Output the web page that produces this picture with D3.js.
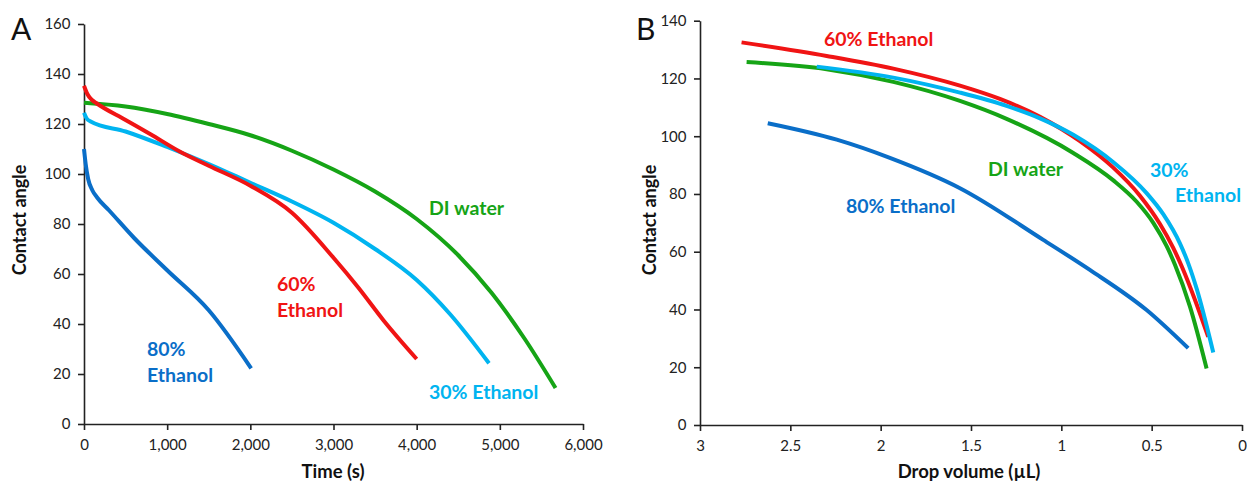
<!DOCTYPE html>
<html>
<head>
<meta charset="utf-8">
<script src="https://cdn.jsdelivr.net/npm/d3@7"></script>
<style>
  html, body { margin: 0; padding: 0; background: #fff; }
  svg { display: block; }
  text { font-family: Lato, "Open Sans", sans-serif; }
</style>
</head>
<body>
<svg id="chart" width="1247" height="485"></svg>
<script>
// ---------- Panel A data: time (s) vs contact angle ----------
const aWaterT = [0, 500, 1000, 1500, 2000, 2500, 3000, 3500, 4000, 4500, 4900, 5300, 5670];
const aWaterY = [128.5, 127, 124, 120, 115.5, 109.3, 101.8, 93, 82, 67.5, 52.5, 34, 14.4];
const a60T    = [0, 40, 100, 150, 500, 800, 1150, 1500, 2000, 2500, 3000, 3300, 3600, 4000];
const a60Y    = [135.3, 132, 129.5, 128.3, 121.6, 115.9, 109, 103.3, 95.3, 84.5, 66.5, 54.5, 41.5, 26];
const a30T    = [0, 30, 80, 500, 1000, 1500, 2000, 2500, 3000, 3500, 4000, 4400, 4870];
const a30Y    = [124.5, 122.3, 121, 117, 110.8, 104, 96.5, 89, 80.5, 70, 57.6, 44, 24.3];
const a80T    = [0, 20, 50, 100, 160, 300, 600, 1000, 1500, 2010];
const a80Y    = [110, 104, 98, 93.5, 90.5, 85.5, 74.5, 61.5, 45.5, 22.3];
const aXTicks = [0, 1000, 2000, 3000, 4000, 5000, 6000];
const aYTicks = [0, 20, 40, 60, 80, 100, 120, 140, 160];

// ---------- Panel B data: drop volume (µL) vs contact angle ----------
const bWaterV = [2.742, 2.299, 1.93, 1.561, 1.303, 0.934, 0.712, 0.583, 0.491, 0.417, 0.371, 0.288, 0.196];
const bWaterY = [125.7, 123.2, 118.8, 112.2, 106, 94.2, 84.7, 77.3, 70, 61.9, 55.5, 41, 19.6];
const b60V    = [2.77, 2.299, 1.93, 1.561, 1.34, 1.118, 0.897, 0.714, 0.565, 0.454, 0.382, 0.332, 0.26, 0.187];
const b60Y    = [132.5, 127.8, 123.4, 117.5, 112.9, 106.7, 98.3, 89.2, 79.4, 69.6, 61.5, 54.7, 43.3, 30.5];
const b30V    = [2.354, 1.93, 1.561, 1.303, 1.118, 0.934, 0.712, 0.528, 0.436, 0.343, 0.297, 0.251, 0.159];
const b30Y    = [124.1, 120.3, 115.1, 110.5, 106.2, 100.5, 91, 80.3, 73, 62.8, 55.9, 47.2, 25.1];
const b80V    = [2.625, 2.243, 1.949, 1.561, 1.1, 0.842, 0.528, 0.298];
const b80Y    = [104.5, 98.8, 92.5, 82, 64.1, 53.7, 39.8, 26.6];
const bXTicks = [3, 2.5, 2, 1.5, 1, 0.5, 0];
const bYTicks = [0, 20, 40, 60, 80, 100, 120, 140];

const colors = { water: "#16a416", e60: "#f01414", e30: "#00b4f0", e80: "#0a6ec8" };

const svg = d3.select("#chart");

function zip(xs, ys) { return xs.map((x, i) => ({ x, y: ys[i] })); }

function panel(opts) {
  const g = svg.append("g");
  const x = d3.scaleLinear().domain(opts.xDomain).range(opts.xRange);
  const y = d3.scaleLinear().domain(opts.yDomain).range(opts.yRange);

  const xAxis = d3.axisBottom(x).tickValues(opts.xTicks).tickSize(6).tickFormat(opts.xFormat).tickSizeOuter(0);
  const yAxis = d3.axisLeft(y).tickValues(opts.yTicks).tickSize(6).tickFormat(d3.format("d")).tickSizeOuter(0);
  const gx = g.append("g").attr("transform", `translate(0,${opts.yRange[0]})`).call(xAxis);
  const gy = g.append("g").attr("transform", `translate(${opts.xRange[0]},0)`).call(yAxis);
  [gx, gy].forEach(a => {
    a.select(".domain").attr("stroke", "#222").attr("stroke-width", 1.6);
    a.selectAll(".tick line").attr("stroke", "#222").attr("stroke-width", 1.6);
    a.selectAll(".tick text").attr("fill", "#222").style("font-size", "15px");
  });
  gx.selectAll(".tick text").attr("dy", "1.15em");
  gy.selectAll(".tick text").attr("dx", "-0.3em");

  const line = d3.line().x(d => x(d.x)).y(d => y(d.y)).curve(opts.curve);
  opts.series.forEach(s => {
    let pts = zip(s.xs, s.ys);
    pts.sort((a, b) => x(a.x) - x(b.x));
    g.append("path").datum(pts)
      .attr("d", line)
      .attr("fill", "none")
      .attr("stroke", s.color)
      .attr("stroke-width", 4)
      .attr("stroke-linecap", "butt")
      .attr("stroke-linejoin", "round");
  });

  g.append("text")
    .attr("transform", `translate(${opts.yTitleX},${opts.yTitleY}) rotate(-90)`)
    .attr("text-anchor", "middle")
    .style("font-size", "18px").style("font-weight", "bold").attr("fill", "#111")
    .text("Contact angle");
  g.append("text")
    .attr("x", opts.xTitleX).attr("y", 478)
    .attr("text-anchor", "middle")
    .style("font-size", "18.5px").style("font-weight", "bold").attr("fill", "#111")
    .text(opts.xTitle);

  g.append("text").attr("x", opts.letterX).attr("y", 40)
    .style("font-size", "30px").attr("fill", "#111").text(opts.letter);

  opts.labels.forEach(l => {
    const t = g.append("text").attr("x", l.x).attr("y", l.y)
      .attr("fill", l.color).style("font-size", "19.5px").style("font-weight", "bold");
    l.lines.forEach((s, i) => {
      t.append("tspan").attr("x", l.x + (l.dx ? l.dx[i] : 0)).attr("dy", i === 0 ? 0 : (l.gap || 26)).text(s);
    });
  });
}

panel({
  xDomain: [0, 6000], xRange: [84, 583],
  yDomain: [0, 160], yRange: [424, 24],
  xTicks: aXTicks, yTicks: aYTicks, xFormat: d3.format(","),
  curve: d3.curveMonotoneX,
  series: [
    { xs: aWaterT, ys: aWaterY, color: colors.water },
    { xs: a30T, ys: a30Y, color: colors.e30 },
    { xs: a60T, ys: a60Y, color: colors.e60 },
    { xs: a80T, ys: a80Y, color: colors.e80 }
  ],
  yTitleX: 26, yTitleY: 220, xTitleX: 333, xTitle: "Time (s)",
  letter: "A", letterX: 11,
  labels: [
    { x: 429, y: 215, color: colors.water, lines: ["DI water"] },
    { x: 277, y: 291, color: colors.e60, lines: ["60%", "Ethanol"] },
    { x: 147, y: 356, color: colors.e80, lines: ["80%", "Ethanol"] },
    { x: 429, y: 399, color: colors.e30, lines: ["30% Ethanol"] }
  ]
});

panel({
  xDomain: [3, 0], xRange: [700, 1242],
  yDomain: [0, 140], yRange: [425, 20.7],
  xTicks: bXTicks, yTicks: bYTicks, xFormat: d3.format("~g"),
  curve: d3.curveMonotoneX,
  series: [
    { xs: b80V, ys: b80Y, color: colors.e80 },
    { xs: bWaterV, ys: bWaterY, color: colors.water },
    { xs: b60V, ys: b60Y, color: colors.e60 },
    { xs: b30V, ys: b30Y, color: colors.e30 }
  ],
  yTitleX: 656, yTitleY: 220, xTitleX: 969, xTitle: "Drop volume (µL)",
  letter: "B", letterX: 636,
  labels: [
    { x: 824, y: 46, color: colors.e60, lines: ["60% Ethanol"] },
    { x: 988, y: 176, color: colors.water, lines: ["DI water"] },
    { x: 846, y: 213, color: colors.e80, lines: ["80% Ethanol"] },
    { x: 1150, y: 177, color: colors.e30, lines: ["30%", "Ethanol"], dx: [0, 25], gap: 25 }
  ]
});
</script>
</body>
</html>
